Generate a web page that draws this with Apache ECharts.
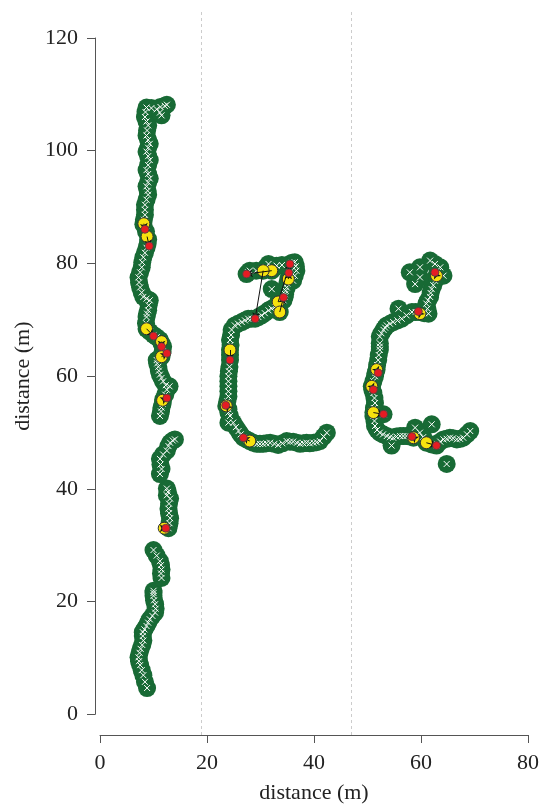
<!DOCTYPE html>
<html><head><meta charset="utf-8">
<script src="https://cdn.jsdelivr.net/npm/echarts@6/dist/echarts.min.js"></script>
<style>html,body{margin:0;padding:0;background:#fff}#c{width:542px;height:809px}</style>
</head><body><div id="c"></div>
<script>
// reference vertical dashed lines (x in m)
const refLines = [19.0, 47.0];
const xTicks = [0, 20, 40, 60, 80];
const yTicks = [0, 20, 40, 60, 80, 100, 120];

// track positions (x, y in m)
const trackA = [
  [8.8,3.5],[8.4,4.6],[8.1,5.8],[7.8,6.7],[7.5,7.6],[7.3,8.3],[7.2,9.0],[7.4,9.8],[7.6,10.5],[7.9,11.2],[8.1,12.0],[8.0,12.8],[8.0,13.5],[8.3,14.0],[8.7,14.6],[9.0,15.2],[9.3,15.8],[9.8,16.4],[10.3,17.0],[10.4,17.7],[10.3,18.5],[10.1,19.2],[10.0,20.0],[10.0,20.5],[10.0,20.9],
  [11.5,23.2],[11.4,24.0],[11.5,24.7],[11.4,25.5],[11.2,26.2],[10.6,27.2],[10.0,28.2],
  [12.8,32.1],[13.0,33.0],[13.1,33.9],[12.9,34.8],[12.8,35.6],[12.9,36.5],[13.1,37.4],[12.5,38.0],[12.7,38.6],[12.5,39.2],
  [11.2,41.8],[11.5,42.7],[11.3,43.5],[11.2,44.5],[11.8,45.3],[12.5,46.0],[12.8,46.8],[13.1,47.4],[13.6,47.8],[14.0,48.0],
  [11.2,52.2],[11.4,53.0],[11.5,53.7],[11.7,54.4],[11.8,55.1],[12.2,56.0],[12.5,56.9],[13.0,57.5],[12.3,57.7],[11.8,58.4],[11.5,59.0],[11.2,59.6],[11.0,60.3],[10.9,61.0],[10.7,61.6],[10.6,62.2],[11.1,62.5],[11.5,62.8],[11.7,63.7],[11.8,64.6],[11.5,65.2],[11.2,65.8],[10.6,66.3],[10.0,66.7],[9.3,67.3],[8.7,67.8],[8.6,68.8],[8.7,69.9],[8.8,70.5],[9.0,71.1],[9.1,72.0],[9.3,72.9],
  [8.7,73.2],[8.1,73.5],[7.8,74.3],[7.5,75.2],[7.3,76.1],[7.2,77.0],[7.5,77.9],[7.8,78.8],[7.9,79.7],[8.1,80.6],[8.4,81.4],[8.7,82.3],[8.9,83.0],[9.0,83.8],[8.6,85.2],[8.1,86.5],[8.2,87.3],[8.4,88.2],[8.4,89.1],[8.4,90.0],[8.7,90.9],[9.0,91.8],[8.9,92.5],[8.7,93.3],[9.0,94.0],[9.3,94.7],[9.0,95.5],[8.7,96.2],[9.0,97.1],[9.3,98.0],[9.0,98.7],[8.7,99.5],[9.0,100.2],[9.3,100.9],[9.0,101.6],[8.7,102.4],[8.8,103.3],[9.0,104.2],[8.7,104.9],[8.4,105.7],[8.5,106.6],[8.7,107.4],[9.6,107.3],[10.6,107.1],[11.3,107.5],[12.1,107.7],[12.5,107.9],[11.5,106.0],[11.2,106.5]
];
const trackB = [
  [42.4,49.2],[41.8,48.5],[41.1,47.7],[40.5,47.5],[39.9,47.4],[39.2,47.3],[38.6,47.4],[38.0,47.3],[37.4,47.2],[36.8,47.4],[36.1,47.6],[35.5,47.6],[34.9,47.7],[34.1,47.3],[33.3,47.0],[32.6,47.2],[31.8,47.4],[31.1,47.3],[30.5,47.2],[29.9,47.2],[29.3,47.2],[28.6,47.4],[28.0,47.7],[27.4,48.0],[26.8,48.3],[26.3,48.9],[25.9,49.5],[25.4,50.2],[24.9,51.0],[24.3,52.2],
  [24.0,51.0],[24.0,52.8],[24.0,53.4],[23.6,54.0],[23.8,54.8],[24.0,55.7],[24.0,56.6],[24.0,57.5],[24.0,58.4],[24.0,59.3],[24.1,60.2],[24.2,61.0],[24.3,62.2],[24.3,63.1],[24.3,64.0],[24.4,64.9],[24.3,65.8],[24.5,66.7],[24.6,67.6],[25.2,68.4],[25.8,68.7],[26.5,69.0],[27.1,69.3],[27.7,69.6],[28.3,69.6],[29.0,69.6],[29.6,69.9],[30.2,70.2],[30.8,70.6],[31.5,71.1],[32.1,71.4],[32.7,71.7],[33.1,71.2],[33.6,70.8],[33.3,72.6],[33.9,72.8],[34.3,72.9],[34.5,73.5],[34.6,74.0],[34.7,74.6],[34.9,75.2],[35.0,75.9],[32.1,74.9],[35.2,76.7],[35.4,77.3],[35.5,77.9],[35.5,78.6],[35.5,79.4],[35.9,79.6],[36.4,79.7],[36.6,79.0],[36.7,78.2],[36.4,77.3],[36.1,76.4],
  [27.4,77.6],[27.7,77.9],[28.0,78.2],[29.2,78.2],[30.5,78.2],[31.0,78.8],[31.5,79.4],[32.1,78.2],[32.6,78.7],[33.0,79.1],[34.0,79.2]
];
const trackC = [
  [64.8,43.6],[69.2,49.5],[68.6,48.9],[67.9,48.3],[67.3,48.1],[66.7,48.0],[66.0,48.2],[65.4,48.3],[64.8,48.1],[64.2,48.0],[63.6,47.6],[62.9,46.9],[62.0,47.1],[61.0,47.4],[62.0,50.7],[60.4,48.4],[59.8,49.2],[59.2,48.8],[58.6,48.3],[58.9,50.1],[58.0,48.5],[57.3,48.6],[56.7,48.6],[56.1,48.6],[55.4,48.5],[54.8,48.3],[54.2,48.4],[53.6,48.6],[52.9,48.9],[52.3,49.2],[54.5,46.9],[51.8,49.7],[51.4,50.4],[51.3,51.3],[51.1,52.2],
  [51.1,52.8],[53.0,52.5],[51.2,53.6],[51.4,54.5],[51.3,55.4],[51.1,56.3],[50.9,56.9],[50.8,57.5],[51.1,58.4],[51.4,59.3],[51.5,59.9],[51.7,60.5],[51.8,61.3],[52.0,62.2],[52.1,63.1],[52.3,64.0],[52.3,64.6],[52.3,65.2],[52.3,66.4],[52.6,67.0],[53.0,67.6],[53.3,68.0],[53.6,68.4],[54.2,68.7],[54.8,69.0],[55.6,69.3],[56.4,69.6],[55.8,71.4],[57.3,70.2],[58.3,70.8],[59.0,70.8],[59.8,70.8],[60.6,70.6],[61.4,70.5],[61.2,71.4],[61.0,72.3],[61.3,72.9],[61.7,73.5],[61.8,74.2],[62.0,74.9],[62.3,75.6],[62.6,76.4],[62.8,76.9],[62.9,77.3],[63.2,78.0],[63.6,78.8],[64.2,77.3],[62.6,79.4],[61.7,80.0],[59.8,77.0],[57.9,77.9],[58.9,75.8],[59.8,78.8]
];
// estimated (yellow) and matched (red) positions, paired by index
const yellowPts = [
  [8.2,86.6],[8.8,84.3],[8.7,67.8],[11.5,65.5],[11.5,62.8],[11.7,55.0],[12.0,32.1],
  [32.1,78.2],[30.5,78.2],[33.3,72.6],[33.6,70.8],[35.2,76.7],[24.3,64.0],[23.6,54.0],[28.0,47.7],
  [62.9,77.3],[59.8,70.5],[51.7,60.5],[50.8,57.5],[51.1,52.8],[58.6,48.3],[61.0,47.4]
];
const redPts = [
  [8.4,85.6],[9.2,82.6],[10.0,66.5],[11.5,64.6],[12.5,63.4],[12.5,55.4],[12.3,32.1],
  [27.4,77.6],[29.0,69.6],[35.5,79.4],[34.3,73.4],[35.3,77.8],[24.3,62.2],[23.5,54.1],[26.8,48.3],
  [62.6,77.9],[59.5,70.9],[52.0,59.9],[51.1,56.9],[53.0,52.5],[58.3,48.5],[62.9,46.9]
];

const allPts = trackA.concat(trackB, trackC);
const linkData = yellowPts.map((p, i) => ({coords: [p, redPts[i]]}));

const font = 'Liberation Serif';
const txt = '#222';
const axCol = '#555';

const chart = echarts.init(document.getElementById('c'));
chart.setOption({
  animation: false,
  backgroundColor: '#fff',
  grid: [
    {left: 100, right: 14, top: 12, bottom: 67},
    {left: 95, width: 10, top: 38, bottom: 94.7}
  ],
  xAxis: [
    {gridIndex: 0, type: 'value', min: xTicks[0], max: xTicks[xTicks.length-1], interval: 20,
     name: 'distance (m)', nameLocation: 'middle', nameGap: 47,
     nameTextStyle: {fontFamily: font, fontSize: 22, color: txt},
     axisLine: {onZero: false, lineStyle: {color: axCol, width: 1}},
     axisTick: {length: 8, lineStyle: {color: axCol}},
     axisLabel: {fontFamily: font, fontSize: 22, color: txt, margin: 17},
     splitLine: {show: false}},
    {gridIndex: 1, type: 'value', show: false, min: 0, max: 1}
  ],
  yAxis: [
    {gridIndex: 0, type: 'value', min: -4.91, max: 124.5, show: false, splitLine: {show: false}},
    {gridIndex: 1, type: 'value', min: yTicks[0], max: yTicks[yTicks.length-1], interval: 20,
     name: 'distance (m)', nameLocation: 'middle', nameGap: 61, nameRotate: 90,
     nameTextStyle: {fontFamily: font, fontSize: 22, color: txt},
     axisLine: {show: true, onZero: false, lineStyle: {color: axCol, width: 1}},
     axisTick: {show: true, length: 8, lineStyle: {color: axCol}},
     axisLabel: {fontFamily: font, fontSize: 22, color: txt, margin: 17},
     splitLine: {show: false}}
  ],
  series: [
    {type: 'scatter', xAxisIndex: 0, yAxisIndex: 0, data: allPts, symbolSize: 18, z: 1,
     itemStyle: {color: '#186a35', opacity: 1},
     markLine: {silent: true, symbol: 'none', label: {show: false},
       lineStyle: {color: '#cccccc', type: [3, 3], width: 1},
       data: refLines.map(v => ({xAxis: v}))}},
    {type: 'scatter', xAxisIndex: 0, yAxisIndex: 0, data: allPts, symbol: 'path://M0,0L10,10M10,0L0,10', symbolSize: 6, z: 2,
     itemStyle: {color: 'rgba(0,0,0,0)', borderColor: '#ffffff', borderWidth: 1, opacity: 1}},
    {type: 'scatter', xAxisIndex: 0, yAxisIndex: 0, data: yellowPts, symbolSize: 12, z: 3,
     itemStyle: {color: '#f6e20e', borderColor: '#333', borderWidth: 1, opacity: 1}},
    {type: 'lines', coordinateSystem: 'cartesian2d', xAxisIndex: 0, yAxisIndex: 0, data: linkData, z: 4,
     symbol: ['none', 'arrow'], symbolSize: 6,
     lineStyle: {color: '#111', width: 1, opacity: 1}},
    {type: 'scatter', xAxisIndex: 0, yAxisIndex: 0, data: redPts, symbolSize: 8, z: 5,
     itemStyle: {color: '#e51c23', borderColor: '#444', borderWidth: 0.8, opacity: 1}}
  ]
});
</script>
</body></html>
